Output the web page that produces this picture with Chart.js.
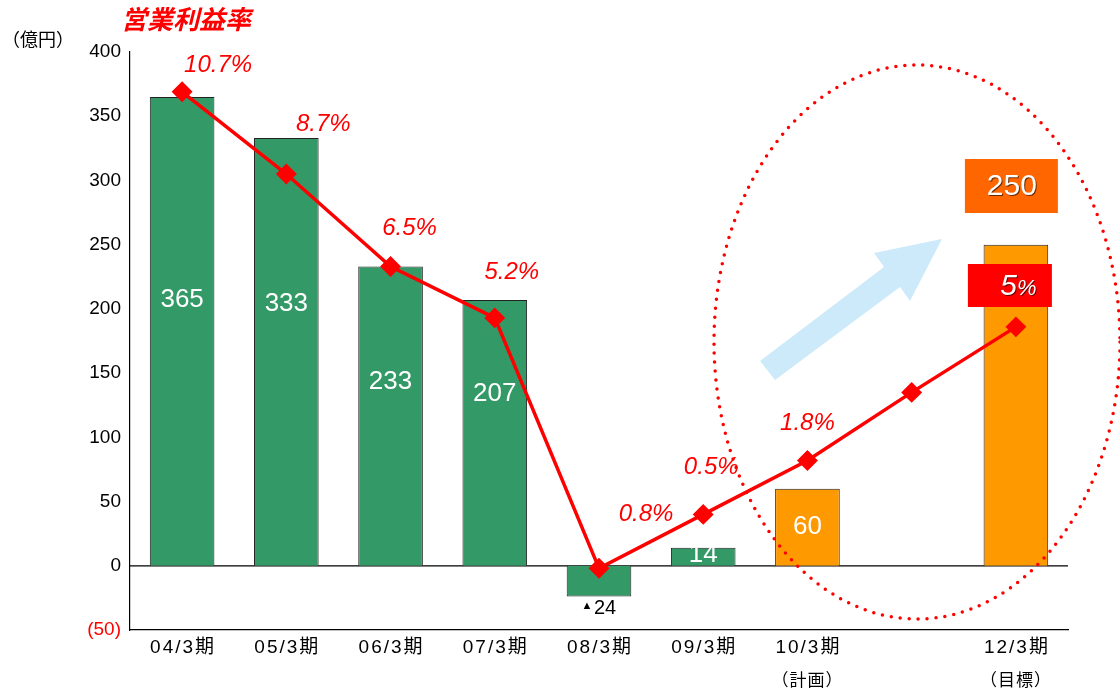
<!DOCTYPE html>
<html>
<head>
<meta charset="utf-8">
<script src="https://cdn.jsdelivr.net/npm/chart.js@4/dist/chart.umd.min.js"></script>
<style>
html,body{margin:0;padding:0;background:#fff;}
#wrap{width:1120px;height:693px;}
</style>
</head>
<body>
<div id="wrap"><canvas id="c" width="1120" height="693"></canvas></div>
<script>
// 期ごとの営業利益（億円）と営業利益率
var periods = ["04/3期","05/3期","06/3期","07/3期","08/3期","09/3期","10/3期","","12/3期"];
var notes = ["","","","","","","（計画）","","（目標）"];
var profit = [365, 333, 233, 207, -24, 14, 60, null, 250];
var marginLevel = [369, 305, 233, 193, -2, 40, 82, 135, 186];
var marginText = ["10.7%","8.7%","6.5%","5.2%","0.8%","0.5%","1.8%","","5%"];
var yTicks = [-50, 0, 50, 100, 150, 200, 250, 300, 350, 400];

var barColors = ["#339966","#339966","#339966","#339966","#339966","#339966","#ff9900","#ff9900","#ff9900"];
var sans = "'Liberation Sans', Arial, sans-serif";
var jp = "'Noto Sans CJK JP', sans-serif";
var mix = "'Liberation Sans', 'Noto Sans CJK JP', sans-serif";

// ラベル位置（点からのずれ）
var pctOff = [[36,-26],[37,-50],[19,-38],[17,-46],[47,-54],[8,-47],[0,-37],null,null];
var valOff = [300,304,382,394,null,555,527,null,null];

var deco = {
  id: "deco",
  beforeDatasetsDraw: function(chart){
    var ctx = chart.ctx, a = chart.chartArea, y = chart.scales.y;
    ctx.save();
    // zero line
    ctx.strokeStyle = "#000"; ctx.lineWidth = 1.2;
    ctx.beginPath(); ctx.moveTo(a.left, y.getPixelForValue(0)); ctx.lineTo(a.right, y.getPixelForValue(0)); ctx.stroke();
    // arrow
    ctx.fillStyle = "#cdeafb";
    ctx.beginPath();
    ctx.moveTo(760,361); ctx.lineTo(884,267); ctx.lineTo(874,253); ctx.lineTo(942,239);
    ctx.lineTo(910,301); ctx.lineTo(900,287); ctx.lineTo(775,380); ctx.closePath(); ctx.fill();
    ctx.restore();
  },
  afterDraw: function(chart){
    var ctx = chart.ctx, x = chart.scales.x, y = chart.scales.y;
    ctx.save();
    // ellipse
    ctx.strokeStyle = "#ff0000"; ctx.lineWidth = 3.5; ctx.lineCap = "round";
    ctx.setLineDash([0, 9]);
    ctx.beginPath(); ctx.ellipse(917, 342, 203, 277, 0, 0, Math.PI*2); ctx.stroke();
    ctx.setLineDash([]);

    // titles
    ctx.fillStyle = "#ff0000"; ctx.font = "italic bold 26px " + jp;
    ctx.textAlign = "center"; ctx.textBaseline = "middle";
    ctx.fillText("営業利益率", 186, 19);
    ctx.fillStyle = "#000"; ctx.font = "18px " + jp; ctx.textAlign = "left";
    ctx.fillText("（億円）", 2, 39);

    // x labels
    ctx.textAlign = "center";
    for (var i = 0; i < periods.length; i++) {
      var px = x.getPixelForValue(i);
      ctx.font = "19px " + mix; ctx.letterSpacing = "2px";
      ctx.fillText(periods[i], px + 1, 648);
      ctx.letterSpacing = "1px";
      ctx.font = "17px " + jp;
      ctx.fillText(notes[i], px, 680);
    }
    ctx.letterSpacing = "0px";

    // bar values
    ctx.font = "26px " + sans; ctx.fillStyle = "#fff";
    for (i = 0; i < profit.length; i++) {
      if (profit[i] === null || valOff[i] === null) continue;
      ctx.fillText(String(profit[i]), x.getPixelForValue(i), valOff[i]);
    }
    // negative value
    var nx = x.getPixelForValue(4);
    ctx.fillStyle = "#000";
    ctx.font = "11px " + sans; ctx.fillText("▲", nx - 12, 606);
    ctx.font = "20px " + sans; ctx.fillText(String(-profit[4]), nx + 6, 608);

    // margin labels
    ctx.fillStyle = "#ff0000"; ctx.font = "italic 24px " + sans;
    for (i = 0; i < marginText.length; i++) {
      if (!pctOff[i]) continue;
      ctx.fillText(marginText[i], x.getPixelForValue(i) + pctOff[i][0], y.getPixelForValue(marginLevel[i]) + pctOff[i][1]);
    }

    // boxes for 12/3
    var bx = x.getPixelForValue(8);
    ctx.fillStyle = "#ff6600"; ctx.fillRect(bx - 51, 159, 93, 54);
    ctx.fillStyle = "#ff0000"; ctx.fillRect(bx - 48, 264, 84, 43);
    ctx.shadowColor = "rgba(0,0,0,0.6)"; ctx.shadowOffsetX = 1; ctx.shadowOffsetY = 1; ctx.shadowBlur = 0;
    ctx.fillStyle = "#fff"; ctx.font = "30px " + sans;
    ctx.fillText(String(profit[8]), bx - 4, 187);
    ctx.font = "italic 30px " + sans; ctx.textAlign = "right";
    ctx.fillText("5", bx + 1, 287);
    ctx.font = "italic 22px " + sans; ctx.textAlign = "left";
    ctx.fillText("%", bx + 1, 289);
    ctx.restore();
  }
};

new Chart(document.getElementById("c"), {
  type: "bar",
  data: {
    labels: periods,
    datasets: [
      {
        type: "line",
        data: marginLevel,
        borderColor: "#ff0000",
        backgroundColor: "#ff0000",
        borderWidth: 3.5,
        pointStyle: "rectRot",
        pointRadius: 8,
        pointHoverRadius: 8,
        tension: 0,
        order: 0
      },
      {
        type: "bar",
        data: profit,
        backgroundColor: barColors,
        borderColor: "#222",
        borderWidth: 1,
        barPercentage: 0.62,
        categoryPercentage: 1,
        order: 1
      }
    ]
  },
  options: {
    responsive: false,
    animation: false,
    layout: { padding: { left: 0, top: 52, right: 52, bottom: 0 } },
    plugins: { legend: { display: false }, tooltip: { enabled: false } },
    scales: {
      x: {
        grid: { display: false, drawTicks: false },
        border: { display: true, color: "#000", width: 1.2 },
        ticks: { display: false },
        afterFit: function(s){ s.height = 63; }
      },
      y: {
        min: -50, max: 400,
        afterBuildTicks: function(s){ s.ticks = yTicks.map(function(v){ return { value: v }; }); },
        grid: { display: false, drawTicks: false },
        border: { display: true, color: "#000", width: 1.2 },
        ticks: {
          padding: 9,
          font: { size: 19, family: sans },
          color: function(c){ return c.tick.value < 0 ? "#ff0000" : "#000"; },
          callback: function(v){ return v < 0 ? "(" + (-v) + ")" : v; }
        },
        afterFit: function(s){ s.width = 130; }
      }
    }
  },
  plugins: [deco]
});
</script>
</body>
</html>
